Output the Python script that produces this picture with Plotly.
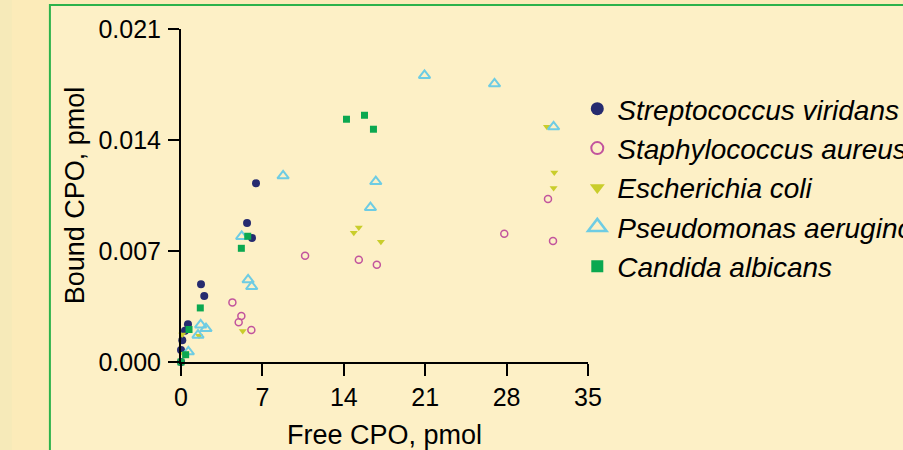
import plotly.graph_objects as go

# Free CPO (pmol) vs bound CPO (pmol) for each organism
strep_x = [0.0, 0.0, 0.11, 0.34, 0.6, 1.72, 2.0, 5.68, 6.11, 6.45]
strep_y = [0.0, 0.00076, 0.00137, 0.00197, 0.00238, 0.0049, 0.00416, 0.00877, 0.00782, 0.01127]

staph_x = [4.42, 4.96, 5.19, 6.05, 10.67, 15.29, 16.84, 27.8, 31.56, 31.99]
staph_y = [0.00376, 0.0025, 0.0029, 0.00202, 0.0067, 0.00645, 0.00614, 0.00809, 0.01028, 0.00763]

ecoli_x = [0.1, 0.2, 1.55, 5.31, 14.86, 15.29, 17.19, 31.47, 32.04, 32.1]
ecoli_y = [0.00174, 0.00052, 0.00165, 0.00195, 0.00815, 0.00848, 0.00758, 0.01483, 0.01097, 0.01195]

pseudo_x = [5.77, 6.08, 1.69, 2.15, 1.46, 0.63, 5.22, 8.78, 16.75, 16.29, 20.94, 26.96, 32.04]
pseudo_y = [0.00518, 0.00476, 0.00234, 0.00211, 0.00169, 0.00064, 0.00792, 0.01174, 0.01138, 0.00974, 0.01807, 0.01754, 0.01483]

candida_x = [0.0, 0.4, 0.69, 1.66, 5.19, 5.74, 14.23, 15.78, 16.55]
candida_y = [0.0, 0.00046, 0.00205, 0.00341, 0.00717, 0.00793, 0.01531, 0.01556, 0.01468]

series_names = [
    "Streptococcus viridans",
    "Staphylococcus aureus",
    "Escherichia coli",
    "Pseudomonas aeruginosa",
    "Candida albicans",
]

x_ticks = [0, 7, 14, 21, 28, 35]
y_ticks = [0.0, 0.007, 0.014, 0.021]
y_tick_text = ["0.000", "0.007", "0.014", "0.021"]

NAVY = "#262B6F"
PINK = "#C2549D"
LIME = "#C9CD2B"
CYAN = "#6ECCE3"
GREEN = "#0BA850"

FONT = "Liberation Sans, Arial, sans-serif"

series = [
    (strep_x, strep_y, dict(symbol="circle", size=8, color=NAVY),
     dict(symbol="circle", size=13, color=NAVY)),
    (staph_x, staph_y, dict(symbol="circle-open", size=7, color=PINK, line=dict(width=1.5, color=PINK)),
     dict(symbol="circle-open", size=12, color=PINK, line=dict(width=2, color=PINK))),
    (ecoli_x, ecoli_y, dict(symbol="triangle-down", size=7, color=LIME),
     dict(symbol="triangle-down", size=13, color=LIME)),
    (pseudo_x, pseudo_y, dict(symbol="triangle-up-open", size=10, color=CYAN, line=dict(width=2, color=CYAN)),
     dict(symbol="triangle-up-open", size=16, color=CYAN, line=dict(width=2.5, color=CYAN))),
    (candida_x, candida_y, dict(symbol="square", size=7, color=GREEN),
     dict(symbol="square", size=12, color=GREEN)),
]

fig = go.Figure()

for name, (xs, ys, mk, legend_mk) in zip(series_names, series):
    fig.add_trace(go.Scatter(
        x=xs, y=ys, mode="markers", marker=mk, name=name,
        showlegend=False, cliponaxis=False, legendgroup=name,
    ))
    # larger marker for the legend entry
    fig.add_trace(go.Scatter(
        x=[None], y=[None], mode="markers", marker=legend_mk, name=name,
        showlegend=True, legendgroup=name,
    ))

# plot area in pixels: x 181..587.7, y 29..362
L, R, T, B = 181, 587.7, 29, 362
W, H = 903, 450
pw, ph = R - L, B - T


def px_x(p):
    return (p - L) / pw


def px_y(p):
    return (B - p) / ph


shapes = [
    # outer panel strip on the far left
    dict(type="rect", xref="paper", yref="paper", x0=px_x(0), x1=px_x(12), y0=px_y(0), y1=px_y(H),
         fillcolor="#F6EAB9", line=dict(width=0), layer="below"),
    # framed panel
    dict(type="rect", xref="paper", yref="paper", x0=px_x(50), x1=px_x(W + 20), y0=px_y(5), y1=px_y(H + 20),
         fillcolor="#FDF0C6", line=dict(color="#2DB24B", width=2), layer="below"),
]

fig.update_layout(
    width=W, height=H,
    margin=dict(l=L, r=W - R, t=T, b=H - B, autoexpand=False),
    paper_bgcolor="#FCEBB9",
    plot_bgcolor="rgba(0,0,0,0)",
    font=dict(family=FONT, color="#000000", size=25),
    shapes=shapes,
    showlegend=True,
    legend=dict(
        x=px_x(577), y=px_y(84), xanchor="left", yanchor="top",
        xref="paper", yref="paper",
        bgcolor="rgba(0,0,0,0)",
        font=dict(family=FONT, size=28, style="italic", color="#000000"),
        itemsizing="trace",
        traceorder="grouped",
        tracegroupgap=0,
    ),
    xaxis=dict(
        range=[0, 35], tickvals=x_ticks, ticktext=[str(v) for v in x_ticks],
        showgrid=False, zeroline=False,
        showline=True, linecolor="#000000", linewidth=2,
        ticks="outside", ticklen=12, tickwidth=1.6, tickcolor="#000000",
        tickfont=dict(size=25),
        title=dict(text="Free CPO, pmol", font=dict(size=27), standoff=16),
    ),
    yaxis=dict(
        range=[0, 0.021], tickvals=y_ticks, ticktext=y_tick_text,
        showgrid=False, zeroline=False,
        showline=True, linecolor="#000000", linewidth=2,
        ticks="outside", ticklen=11, tickwidth=1.6, tickcolor="#000000",
        tickfont=dict(size=25), ticklabelstandoff=2,
        title=dict(text="Bound CPO, pmol", font=dict(size=27), standoff=6),
    ),
)

fig.write_html("out.html")
